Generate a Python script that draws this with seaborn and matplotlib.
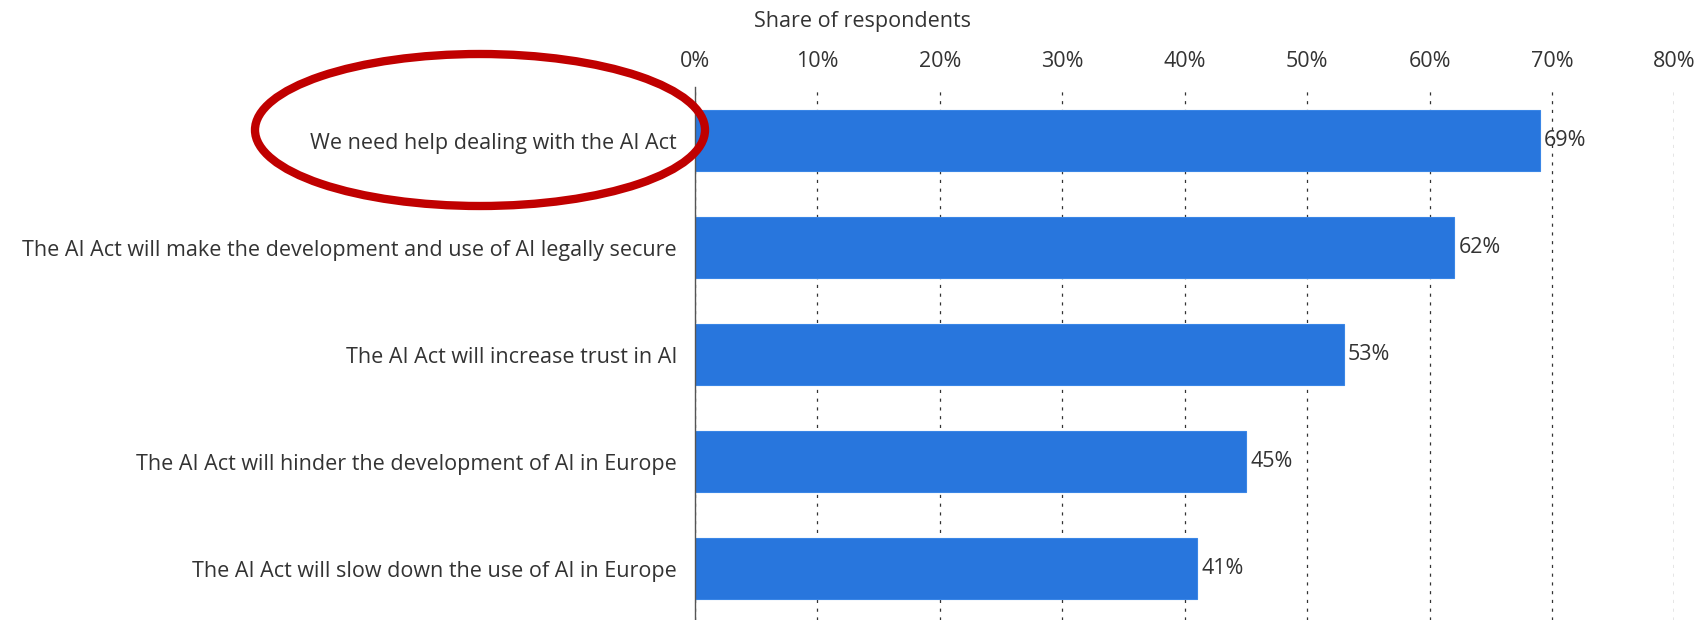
import matplotlib
matplotlib.use("Agg")
import matplotlib.pyplot as plt
import seaborn as sns
import pandas as pd
from matplotlib.patches import Ellipse

categories = [
    "We need help dealing with the AI Act",
    "The AI Act will make the development and use of AI legally secure",
    "The AI Act will increase trust in AI",
    "The AI Act will hinder the development of AI in Europe",
    "The AI Act will slow down the use of AI in Europe",
]
values = [69, 62, 53, 45, 41]
tick_values = [0, 10, 20, 30, 40, 50, 60, 70, 80]
tick_labels = [f"{v}%" for v in tick_values]

sns.set_theme(style="white")
plt.rcParams["font.family"] = ["Open Sans", "DejaVu Sans"]

FS = 15.5
df = pd.DataFrame({"cat": categories, "val": values})

fig = plt.figure(figsize=(16.99, 6.2), dpi=100)
ax = fig.add_axes([695/1699, 0.0, (1674.5-695)/1699, 1 - 87/620])

sns.barplot(data=df, x="val", y="cat", orient="h", color="#2876DD",
            saturation=1, width=0.57, ax=ax, edgecolor="#3A86E6", linewidth=0.8)

ax.set_xlim(0, 80)
ax.set_ylim(4.48, -0.5)
ax.xaxis.tick_top()
ax.set_xticks(tick_values)
ax.set_xticklabels(tick_labels, fontsize=FS, color="#333333")
ax.tick_params(axis="x", length=0, pad=11)
ax.tick_params(axis="y", length=0, pad=13, labelsize=FS, labelcolor="#333333")
ax.set_xlabel("")
ax.set_ylabel("")
for s in ["top", "right", "bottom"]:
    ax.spines[s].set_visible(False)
ax.spines["left"].set_color("#555555")
ax.spines["left"].set_linewidth(1.0)
ax.grid(axis="x", linestyle=(0, (2.5, 4.5)), color="#333333", linewidth=0.9)
ax.set_axisbelow(True)

for c in ax.containers:
    ax.bar_label(c, labels=[f"{v}%" for v in values], padding=3,
                 fontsize=FS, color="#333333")

fig.text(863/1699, 1 - 21/620, "Share of respondents", ha="center", va="center",
         fontsize=FS, color="#333333")

ell = Ellipse((480/1699, 1 - 130/620), 450/1699, 152/620,
              transform=fig.transFigure, fill=False, edgecolor="#C00000",
              linewidth=6, zorder=10)
fig.add_artist(ell)

fig.savefig("out.png", dpi=100)
